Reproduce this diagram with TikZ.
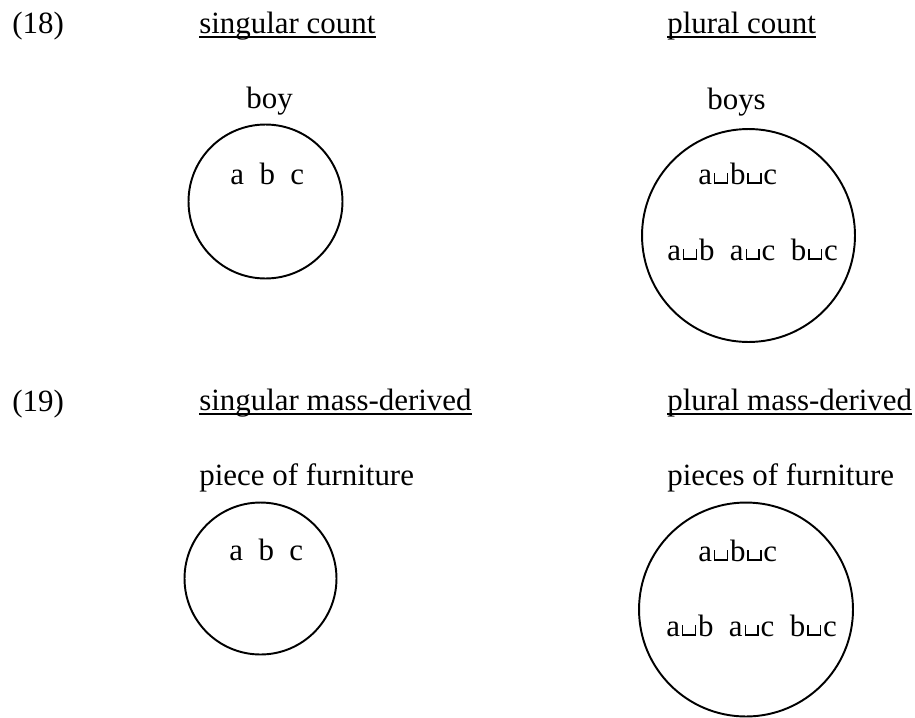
\documentclass[tikz,border=0pt]{standalone}
\usepackage{fontspec}
\setmainfont{Liberation Serif}
\newcommand{\jn}{\kern0.06em\rule{0.05em}{0.78ex}\rule{0.36em}{0.05em}\rule{0.05em}{0.78ex}\kern0.06em}
\tikzset{
  lbl/.style={anchor=base west, inner sep=0pt, font=\fontsize{17.6pt}{21pt}\selectfont},
  setcirc/.style={draw, circle, inner sep=0pt, line width=1.1pt},
  uline/.style={line width=0.8pt}
}
\begin{document}
\begin{tikzpicture}[x=0.02cm, y=-0.02cm]
\useasboundingbox (0,0) rectangle (915,717);
% row (18)
\node[lbl] (n18) at (12,33) {(18)};
\node[lbl] (sc) at (199,33) {singular count\ };
\node[lbl] (pc) at (667,33) {plural count};
\draw[uline] ([yshift=-0.08cm]sc.base west) -- ([yshift=-0.08cm]sc.base east);
\draw[uline] ([yshift=-0.08cm]pc.base west) -- ([yshift=-0.08cm]pc.base east);
\node[lbl] (boy) at (246,108) {boy};
\node[setcirc, minimum size=3.08cm] (c1) at (265.5,201.5) {};
\node[lbl] (abc1) at (230,184) {a~~b~~c};
\node[lbl] (boys) at (707,109) {boys};
\node[setcirc, minimum size=4.26cm] (c2) at (748.5,235.5) {};
\node[lbl] (abcj1) at (698,184) {a\jn b\jn c};
\node[lbl] (pairs1) at (667,260) {a\jn b~~a\jn c~~b\jn c};
% row (19)
\node[lbl] (n19) at (12,411) {(19)};
\node[lbl] (smd) at (199,410) {singular mass-derived};
\node[lbl] (pmd) at (667,410) {plural mass-derived};
\draw[uline] ([yshift=-0.08cm]smd.base west) -- ([yshift=-0.08cm]smd.base east);
\draw[uline] ([yshift=-0.08cm]pmd.base west) -- ([yshift=-0.08cm]pmd.base east);
\node[lbl] (pof) at (199,485) {piece of furniture};
\node[setcirc, minimum size=3.04cm] (c3) at (260.5,578.5) {};
\node[lbl] (abc2) at (229,560) {a~~b~~c};
\node[lbl] (psof) at (667,485) {pieces of furniture};
\node[setcirc, minimum size=4.28cm] (c4) at (746,609.5) {};
\node[lbl] (abcj2) at (698,561) {a\jn b\jn c};
\node[lbl] (pairs2) at (666,636) {a\jn b~~a\jn c~~b\jn c};
\end{tikzpicture}
\end{document}
